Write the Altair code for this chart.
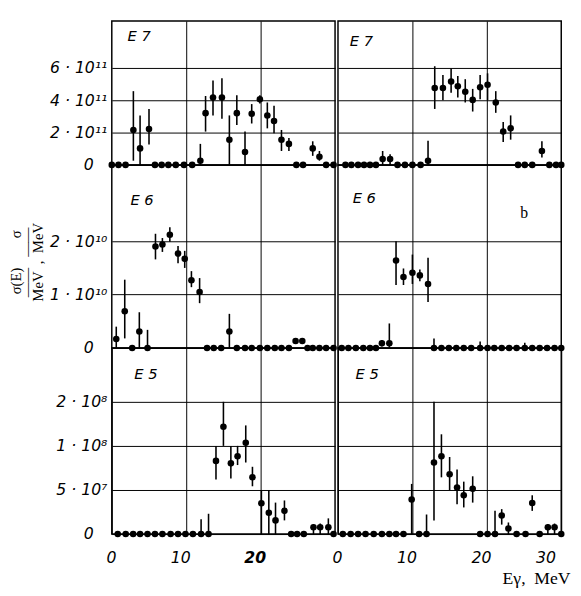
import altair as alt
import pandas as pd

# ---------------- data ----------------
# Row E7, values in units of 1e11 per MeV
E7A_X  = [0, 0.9, 1.85, 2.9, 3.8, 5.0, 5.8, 6.7, 7.6, 8.6, 9.7, 10.8, 11.9, 12.6, 13.6, 14.8, 15.8, 16.8, 17.9, 18.8, 19.9, 20.9, 21.8, 22.8, 23.8, 24.8, 25.7, 27.0, 27.9, 28.8, 29.8]
E7A_V  = [0, 0, 0, 2.16, 1.02, 2.22, 0, 0, 0, 0, 0, 0, 0.26, 3.2, 4.16, 4.16, 1.56, 3.2, 0.8, 3.16, 4.06, 3.06, 2.72, 1.56, 1.3, 0, 0, 1.02, 0.5, 0, 0]
E7A_LO = [None, None, None, 0.26, 0, 1.26, None, None, None, None, None, None, 0, 2.06, 3.06, 2.86, 0, 2.46, 0, 2.56, 3.8, 2.26, 1.96, 0.86, 0.86, None, None, 0.56, 0.26, None, None]
E7A_HI = [None, None, None, 4.56, 3.06, 3.46, None, None, None, None, None, None, 1.3, 4.26, 5.22, 5.36, 3.06, 4.3, 2.06, 3.76, 4.3, 3.86, 3.66, 2.16, 1.66, None, None, 1.46, 0.86, None, None]

E7B_X  = [1.0, 1.8, 2.7, 3.5, 4.3, 5.1, 6.0, 7.0, 8.0, 9.0, 10.0, 11.1, 12.1, 13.0, 14.1, 15.2, 16.1, 17.1, 18.1, 19.1, 20.1, 21.2, 22.2, 23.2, 24.2, 25.1, 26.1, 27.4, 28.4, 29.3, 30.0]
E7B_V  = [0, 0, 0, 0, 0, 0, 0.36, 0.36, 0, 0, 0, 0, 0.26, 4.76, 4.76, 5.16, 4.86, 4.52, 4.02, 4.8, 4.96, 3.86, 2.06, 2.26, 0, 0, 0, 0.86, 0, 0, 0]
E7B_LO = [None, None, None, None, None, None, 0, 0, None, None, None, None, 0, 3.46, 4.0, 4.46, 4.16, 3.86, 3.3, 4.06, 4.0, 3.22, 1.42, 1.56, None, None, None, 0.46, None, None, None]
E7B_HI = [None, None, None, None, None, None, 0.86, 0.66, None, None, None, None, 1.5, 6.1, 5.56, 5.96, 5.5, 5.3, 4.7, 5.56, 5.66, 4.56, 2.66, 3.06, None, None, None, 1.46, None, None, None]

# Row E6, values in units of 1e10 per MeV
E6A_X  = [0.6, 1.74, 2.74, 3.7, 4.8, 5.87, 6.8, 7.8, 8.9, 9.8, 10.7, 11.8, 12.8, 13.7, 14.7, 15.8, 16.8, 17.9, 18.8, 19.9, 20.9, 21.9, 22.8, 23.8, 24.7, 25.6, 26.3, 27.0, 27.9, 28.8, 29.8]
E6A_V  = [0.17, 0.69, 0, 0.31, 0, 1.9, 1.94, 2.12, 1.77, 1.67, 1.27, 1.05, 0, 0, 0, 0.31, 0, 0, 0, 0, 0, 0, 0, 0, 0.13, 0.13, 0, 0, 0, 0, 0]
E6A_LO = [0, 0.18, None, 0, 0, 1.66, 1.8, 1.99, 1.59, 1.5, 1.14, 0.84, None, None, None, 0, None, None, None, None, None, None, None, None, 0.08, 0.08, None, None, None, None, None]
E6A_HI = [0.4, 1.28, None, 0.67, 0.34, 2.14, 2.06, 2.26, 1.91, 1.82, 1.44, 1.31, None, None, None, 0.64, None, None, None, None, None, None, None, None, 0.18, 0.18, None, None, None, None, None]

E6B_X  = [0.5, 1.4, 2.4, 3.4, 4.3, 5.1, 5.9, 6.9, 7.8, 8.8, 10.0, 11.0, 12.1, 12.9, 13.9, 14.9, 15.9, 16.9, 17.9, 19.1, 20.1, 21.0, 22.0, 23.0, 24.0, 25.1, 26.1, 27.1, 28.1, 29.1, 30.0]
E6B_V  = [0, 0, 0, 0, 0, 0, 0.09, 0.09, 1.64, 1.33, 1.41, 1.36, 1.2, 0, 0, 0, 0, 0, 0, 0, 0, 0, 0, 0, 0, 0, 0, 0, 0, 0, 0]
E6B_LO = [None, None, None, None, None, None, 0.03, 0, 1.18, 1.18, 1.2, 1.25, 0.86, 0, None, None, None, None, None, 0, None, None, None, None, None, 0, None, None, None, None, None]
E6B_HI = [None, None, None, None, None, None, 0.15, 0.46, 2.0, 1.49, 1.75, 1.47, 1.69, 0.18, None, None, None, None, None, 0.12, None, None, None, None, None, 0.1, None, None, None, None, None]

# Row E5, values in units of 1e7 per MeV (axis: 0, 5e7, 1e8, 2e8 equally spaced)
E5A_X  = [0.8, 1.87, 2.87, 3.8, 4.8, 5.8, 6.8, 7.9, 8.9, 9.9, 10.9, 12.0, 13.0, 14.0, 15.0, 16.0, 16.9, 18.0, 18.9, 20.1, 21.1, 22.0, 23.2, 24.1, 24.9, 25.8, 27.1, 28.0, 29.1, 29.8]
E5A_V  = [0, 0, 0, 0, 0, 0, 0, 0, 0, 0, 0, 0, 0, 7.9, 13.5, 7.6, 8.5, 10.5, 6.1, 4.06, 3.5, 3.1, 3.6, 0, 0, 0, 2.78, 2.78, 2.78, 0]
E5A_LO = [None, None, None, None, None, None, None, None, None, None, None, 0, 0, 5.9, 10.0, 6.0, 7.4, 7.7, 5.3, 0, 0, 0, 3.1, None, None, None, 0, 0, 0, None]
E5A_HI = [None, None, None, None, None, None, None, None, None, None, None, 3.15, 3.44, 10.0, 20.0, 10.0, 10.0, 13.8, 7.2, 5.0, 5.0, 4.1, 4.24, None, None, None, 2.92, 2.95, 3.2, None]

E5B_X  = [0.65, 1.7, 2.7, 3.7, 4.8, 5.9, 6.9, 7.8, 8.8, 9.9, 10.9, 11.9, 12.9, 13.9, 15.0, 16.0, 16.9, 18.1, 19.1, 20.1, 21.1, 22.0, 22.9, 24.0, 25.2, 26.1, 27.1, 28.2, 29.1, 30.0]
E5B_V  = [0, 0, 0, 0, 0, 0, 0, 0, 0, 4.3, 0, 0, 7.7, 8.5, 6.4, 5.2, 4.6, 5.1, 0, 0, 0, 3.35, 2.73, 0, 0, 4.07, 0, 2.78, 2.78, 0]
E5B_LO = [None, None, None, None, None, None, None, None, None, 0, None, 0, 3.1, 6.1, 5.0, 4.0, 3.8, 4.1, None, None, 0, 2.9, 0, None, None, 3.6, None, 0, 0, None]
E5B_HI = [None, None, None, None, None, None, None, None, None, 5.5, None, 3.4, 20.0, 12.0, 8.4, 6.9, 5.7, 6.2, None, None, 3.6, 3.7, 3.0, None, None, 4.6, None, 2.92, 2.95, None]

ROW_UNITS = {"E7": 1e11, "E6": 1e10, "E5": 1e7}
E5_ZERO = 2.5e7   # level of the "0" line on the E5 axis

Y_TICKS = {
    "E7": [0, 2e11, 4e11, 6e11],
    "E6": [0, 1e10, 2e10],
    "E5": [E5_ZERO, 5e7, 1e8, 2e8],
}
Y_LABELS = {
    "E7": ["0", "2 · 10¹¹", "4 · 10¹¹", "6 · 10¹¹"],
    "E6": ["0", "1 · 10¹⁰", "2 · 10¹⁰"],
    "E5": ["0", "5 · 10⁷", "1 · 10⁸", "2 · 10⁸"],
}
Y_DOMAIN = {"E7": [0, 8.9e11], "E6": [0, 3.43e10], "E5": [E5_ZERO, 4.66e8]}
ROW_H = {"E7": 147, "E6": 187, "E5": 190}
PANEL_W = 228

X_TICKS_LEFT = [0, 10, 20]
X_TICKS_RIGHT = [0, 10, 20, 30]

PANEL_TEXT = {("E7", "a"): "E 7", ("E7", "b"): "E 7",
              ("E6", "a"): "E 6", ("E6", "b"): "E 6",
              ("E5", "a"): "E 5", ("E5", "b"): "E 5"}

DATA = {
    ("E7", "a"): (E7A_X, E7A_V, E7A_LO, E7A_HI),
    ("E7", "b"): (E7B_X, E7B_V, E7B_LO, E7B_HI),
    ("E6", "a"): (E6A_X, E6A_V, E6A_LO, E6A_HI),
    ("E6", "b"): (E6B_X, E6B_V, E6B_LO, E6B_HI),
    ("E5", "a"): (E5A_X, E5A_V, E5A_LO, E5A_HI),
    ("E5", "b"): (E5B_X, E5B_V, E5B_LO, E5B_HI),
}


def label_expr(vals, labels):
    expr = "''"
    for v, l in reversed(list(zip(vals, labels))):
        expr = f"datum.value == {float(v)} ? '{l}' : {expr}"
    return expr


def make_df(row, col):
    xs, vs, los, his = DATA[(row, col)]
    u = ROW_UNITS[row]
    pts = pd.DataFrame({"x": xs, "v": [v * u for v in vs]})
    bars = pd.DataFrame({
        "x": [x for x, lo in zip(xs, los) if lo is not None],
        "lo": [lo * u for lo in los if lo is not None],
        "hi": [hi * u for hi in his if hi is not None],
    })
    return pts, bars


LABEL_POS = {("E7", "a"): (16, 15), ("E7", "b"): (12, 21),
             ("E6", "a"): (19, 36), ("E6", "b"): (15, 34),
             ("E5", "a"): (23, 27), ("E5", "b"): (18, 27)}

LBL_FONT = dict(labelFont="DejaVu Sans", labelFontStyle="italic", labelFontSize=16,
                labelColor="black")


def panel(row, col):
    pts, bars = make_df(row, col)
    is_log = row == "E5"
    yscale = alt.Scale(type="log", domain=Y_DOMAIN[row], nice=False, clamp=True) if is_log \
        else alt.Scale(domain=Y_DOMAIN[row], nice=False, zero=True)
    bottom = row == "E5"

    if col == "a":
        zero_tick = float(Y_TICKS[row][0])
        ykw = dict(values=Y_TICKS[row], labelExpr=label_expr(Y_TICKS[row], Y_LABELS[row]),
                   grid=True, ticks=False, domain=False, tickSize=0,
                   labelPadding={"condition": {"test": f"datum.value == {zero_tick}", "value": 19},
                                 "value": 5},
                   title=None, **LBL_FONT)
        if row == "E6":
            ykw.update(title=["σ(E)\u00a0\u00a0\u00a0\u00a0\u00a0\u00a0\u00a0\u00a0σ\u00a0\u00a0",
                              "——\u00a0\u00a0\u00a0——",
                              "MeV\u00a0\u00a0,\u00a0\u00a0MeV"],
                       titleAngle=-90, titleX=-90, titleY=99, titleBaseline="bottom",
                       titleAlign="center", titleFont="Liberation Serif", titleFontSize=15,
                       titleFontWeight="normal", titleLineHeight=11, titleColor="black")
        yaxis = alt.Axis(**ykw)
    else:
        yaxis = alt.Axis(values=Y_TICKS[row], labels=False, grid=True, ticks=False,
                         domain=False, tickSize=0, title=None)

    if bottom:
        ticks = X_TICKS_LEFT if col == "a" else X_TICKS_RIGHT
        kw = dict(values=ticks, grid=True, ticks=False, domain=False, tickSize=0,
                  labelPadding=16, labelOffset=-6, **LBL_FONT)
        kw["labelFontSize"] = 16
        if col == "a":
            kw["labelFontWeight"] = {"condition": {"test": "datum.value == 20", "value": "bold"},
                                     "value": "normal"}
            kw["title"] = None
        else:
            kw.update(title="Eγ,\u00a0 MeV", titleFont="Liberation Serif", titleFontSize=18,
                      titleFontWeight="normal", titleAlign="right", titleAnchor="end",
                      titleX=PANEL_W + 9, titleY=51, titleBaseline="alphabetic",
                      titleColor="black")
        xaxis = alt.Axis(**kw)
    else:
        xaxis = alt.Axis(values=[10, 20], labels=False, grid=True, ticks=False,
                         domain=False, tickSize=0, title=None)

    xscale = alt.Scale(domain=[0, 30], nice=False, zero=False)

    if is_log:
        ycalc = f"max(datum.v, {E5_ZERO})"
        localc = f"max(datum.lo, {E5_ZERO})"
    else:
        ycalc = "datum.v"
        localc = "datum.lo"

    rules = alt.Chart(bars).transform_calculate(lop=localc).mark_rule(
        color="black", strokeWidth=1.6).encode(
        x=alt.X("x:Q", scale=xscale, axis=xaxis),
        y=alt.Y("lop:Q", scale=yscale, axis=yaxis),
        y2="hi:Q",
    )
    dots = alt.Chart(pts).transform_calculate(vp=ycalc).mark_circle(
        color="black", opacity=1, size=45).encode(
        x=alt.X("x:Q", scale=xscale),
        y=alt.Y("vp:Q", scale=yscale),
    )
    lx, ly = LABEL_POS[(row, col)]
    lab = alt.Chart(pd.DataFrame({"t": [PANEL_TEXT[(row, col)]]})).mark_text(
        font="DejaVu Sans", fontStyle="italic", fontSize=15, align="left",
        baseline="middle", color="black").encode(
        text="t:N", x=alt.value(lx), y=alt.value(ly))
    layers = [rules, dots, lab]
    if row == "E6" and col == "b":
        blab = alt.Chart(pd.DataFrame({"t": ["b"]})).mark_text(
            font="Liberation Serif", fontSize=16, align="center", baseline="middle",
            color="black").encode(text="t:N", x=alt.value(190), y=alt.value(49))
        layers.append(blab)
    return alt.layer(*layers).properties(width=PANEL_W, height=ROW_H[row])


panels = [panel(r, c) for r in ["E7", "E6", "E5"] for c in ["a", "b"]]
chart = alt.concat(*panels, columns=2, spacing={"row": 0, "column": 3}, bounds="flush").properties(
    padding={"left": 0, "top": 6, "right": 2, "bottom": 0},
    background="white",
).configure_view(
    stroke="black", strokeWidth=1.5
).configure_axis(
    gridColor="black", gridOpacity=1, gridWidth=1,
)

chart.save("out.html", embed_options={"renderer": "svg", "actions": False})
